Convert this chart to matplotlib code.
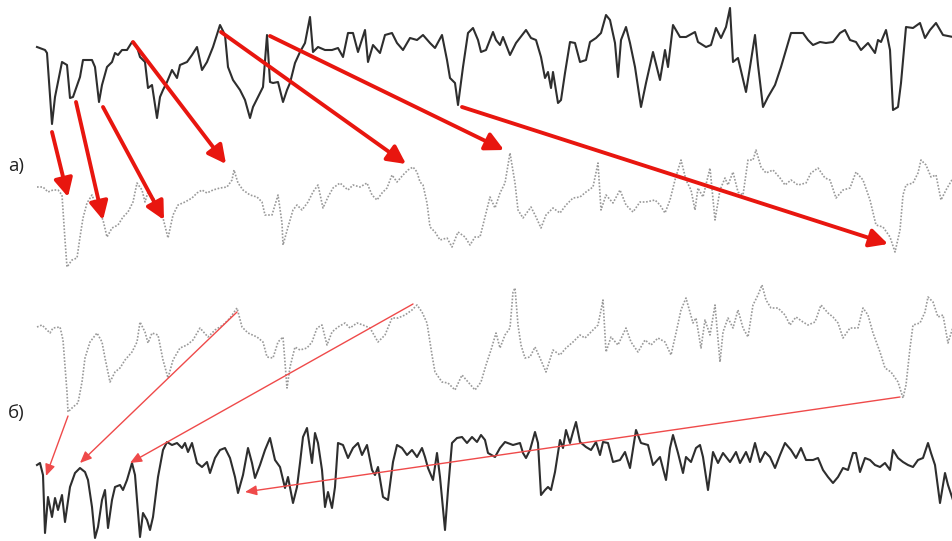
import numpy as np
import matplotlib
matplotlib.use('Agg')
import matplotlib.pyplot as plt

# in pixel units of the 953x541 image (y grows downwards)
top_solid = [(37,47),(45,50),(47,53),(52,124),(55,97),(62,62),(67,65),(70,98),(73,97),(80,77),(83,60),(92,60),
    (95,67),(99,102),(102,85),(107,67),(112,62),(115,53),(118,55),(122,50),(127,50),(132,42),(137,47),(140,57),
    (145,62),(148,88),(152,85),(157,118),(160,97),(163,90),(167,82),(172,70),(177,78),(180,65),(187,62),(192,55),
    (197,47),(202,70),(207,62),(213,47),(220,25),(225,35),(228,67),(233,80),(240,90),(245,100),(250,118),(253,107),
    (258,97),(263,87),(267,35),(270,82),(273,83),(278,82),(283,102),(287,90),(290,83),(295,63),(300,52),(305,43),
    (310,17),(313,52),(318,47),(325,50),(332,50),(338,48),(343,57),(348,33),(353,33),(358,52),(365,30),(368,62),
    (373,45),(380,53),(385,35),(392,33),(397,43),(403,50),(410,38),(417,40),(423,35),(430,43),(435,48),(442,35),
    (447,60),(450,78),(455,83),(458,105),(463,67),(468,33),(473,28),(478,40),(481,52),(486,50),(493,32),(496,40),
    (500,45),(503,37),(510,55),(516,43),(526,30),(531,38),(536,40),(541,57),(545,78),(548,72),(551,88),(553,72),
    (558,103),(561,100),(565,73),(570,42),(575,43),(580,62),(586,60),(590,42),(596,38),(601,33),(606,15),(610,20),
    (615,43),(618,77),(621,40),(626,27),(630,43),(635,67),(641,107),(646,83),(653,52),(660,80),(665,50),(668,67),
    (673,25),(680,37),(686,37),(695,32),(698,42),(706,47),(711,45),(716,28),(721,38),(726,27),(730,8),(733,62),
    (738,58),(746,92),(750,67),(755,35),(758,65),(763,107),(768,97),(775,85),(781,67),(786,50),(791,33),(803,33),
    (808,40),(813,45),(820,42),(826,43),(833,42),(840,33),(845,30),(850,40),(856,42),(861,50),(868,43),(875,53),
    (878,40),(881,42),(886,30),(890,50),(893,110),(898,107),(901,83),(906,27),(913,28),(920,23),(925,38),(930,30),
    (936,23),(943,35),(953,37)]

dotted_a = [(37,187),(43,187),(48,192),(53,190),(58,190),(62,195),(65,240),(67,267),(72,260),(77,258),(80,237),
    (83,218),(87,203),(92,195),(97,208),(103,220),(107,237),(112,228),(118,225),(123,217),(128,212),(133,202),
    (137,183),(142,190),(145,202),(148,192),(153,197),(158,208),(163,218),(168,238),(173,215),(178,205),(185,202),
    (192,198),(197,193),(202,190),(207,193),(213,190),(220,188),(227,187),(232,180),(234,170),(238,183),(243,190),
    (250,195),(257,197),(262,202),(265,215),(272,215),(275,205),(278,195),(282,223),(283,245),(288,227),(293,210),
    (297,205),(302,210),(308,202),(313,192),(318,185),(323,208),(328,197),(333,188),(340,183),(348,190),(353,185),
    (360,187),(367,183),(372,195),(377,200),(382,193),(387,188),(392,175),(397,182),(403,175),(408,170),(413,167),
    (417,172),(420,182),(423,185),(427,203),(430,227),(435,232),(440,240),(447,238),(452,247),(458,232),(465,237),
    (470,245),(475,237),(480,237),(485,217),(490,197),(495,208),(500,193),(505,183),(510,153),(515,183),(518,210),
    (523,218),(531,207),(536,217),(541,228),(546,215),(553,208),(560,213),(566,205),(573,198),(580,197),(586,192),
    (593,187),(598,163),(601,210),(606,195),(613,203),(620,190),(626,205),(633,212),(640,202),(646,202),(655,200),
    (660,205),(665,213),(670,200),(675,180),(681,160),(686,180),(691,190),(695,210),(698,188),(703,197),(710,168),
    (715,220),(720,190),(725,178),(728,185),(733,172),(738,192),(743,195),(748,160),(753,160),(756,150),(761,167),
    (766,173),(773,170),(780,178),(785,185),(791,180),(798,185),(806,183),(811,173),(818,168),(825,178),(830,180),
    (836,198),(843,190),(850,188),(856,172),(863,180),(870,200),(876,225),(883,227),(890,237),(895,252),(900,230),
    (903,195),(906,185),(913,183),(918,173),(921,160),(926,165),(931,177),(936,175),(941,200),(946,190),(953,178)]

dotted_b = [(37,327),(42,325),(47,330),(50,333),(53,328),(60,327),(63,340),(67,392),(68,412),(73,407),(78,403),
    (82,382),(85,358),(90,342),(97,333),(102,342),(105,358),(110,382),(115,372),(120,368),(125,360),(132,352),
    (137,342),(140,322),(145,332),(148,343),(152,333),(158,335),(163,360),(168,378),(173,360),(180,348),(187,345),
    (193,340),(200,328),(208,337),(215,330),(223,325),(230,318),(237,308),(242,327),(248,333),(257,337),(263,342),
    (267,357),(273,358),(278,342),(283,337),(287,388),(290,367),(295,347),(300,350),(307,348),(312,342),(317,328),
    (322,325),(327,345),(332,332),(338,327),(345,323),(350,328),(357,323),(363,325),(370,328),(378,342),(385,335),
    (392,318),(398,318),(405,315),(412,310),(417,305),(422,312),(427,323),(432,355),(435,372),(442,382),(448,383),
    (455,390),(462,375),(468,382),(475,390),(481,382),(486,365),(491,350),(496,333),(500,348),(505,335),(510,328),
    (513,292),(515,288),(518,325),(521,345),(525,358),(530,357),(535,347),(540,358),(546,372),(553,350),(560,355),
    (566,348),(573,342),(580,335),(585,338),(591,332),(598,325),(603,300),(606,352),(611,337),(618,345),(626,328),
    (631,342),(638,352),(645,340),(651,345),(658,338),(665,342),(671,355),(676,333),(681,310),(686,298),(693,323),
    (696,318),(701,348),(705,320),(710,335),(715,305),(720,362),(723,332),(728,318),(733,328),(738,310),(743,328),
    (748,337),(753,305),(758,295),(762,285),(766,300),(771,308),(778,308),(785,315),(790,325),(796,317),(803,322),
    (808,325),(815,322),(821,305),(828,313),(833,317),(838,323),(843,338),(850,328),(858,328),(863,308),(868,315),
    (873,333),(880,352),(885,368),(891,372),(898,382),(903,398),(906,385),(910,348),(913,325),(920,323),(925,312),
    (928,297),(933,302),(938,317),(943,315),(948,343),(953,327)]

bottom_solid = [(37,465),(40,463),(43,475),(45,533),(48,497),(52,517),(55,498),(58,510),(62,495),(65,522),(70,487),
    (75,473),(80,468),(85,472),(88,480),(92,507),(95,538),(98,527),(102,500),(105,490),(108,528),(112,500),(115,487),
    (120,485),(123,490),(127,480),(132,463),(135,475),(140,537),(143,513),(147,520),(150,530),(153,517),(158,477),
    (163,450),(167,442),(172,445),(177,443),(182,448),(185,443),(188,452),(192,443),(197,463),(202,467),(207,462),
    (210,473),(215,458),(220,450),(225,448),(230,458),(235,477),(238,493),(243,475),(248,448),(252,463),(255,478),
    (260,465),(265,450),(270,438),(275,460),(280,467),(285,488),(288,477),(293,503),(297,487),(300,463),(303,437),
    (307,428),(312,463),(315,433),(318,443),(322,470),(325,507),(328,492),(332,508),(335,487),(338,443),(343,445),
    (348,458),(353,448),(358,443),(362,455),(367,445),(372,470),(375,475),(378,467),(383,497),(388,500),(393,462),
    (397,445),(402,448),(407,455),(412,450),(417,457),(422,448),(425,457),(428,468),(433,480),(437,453),(440,477),
    (445,530),(448,490),(452,443),(457,438),(462,437),(467,443),(472,437),(477,442),(481,435),(485,440),(488,453),
    (495,457),(500,448),(505,442),(513,445),(520,443),(523,453),(526,458),(530,450),(535,432),(538,443),(541,495),
    (545,490),(548,487),(551,490),(555,472),(560,440),(563,448),(566,430),(570,443),(573,432),(576,422),(580,442),
    (586,447),(591,450),(596,442),(600,455),(603,442),(608,443),(613,462),(620,460),(625,452),(630,468),(636,430),
    (641,443),(648,445),(653,465),(660,457),(666,480),(670,448),(673,435),(678,453),(683,473),(686,457),(691,462),
    (696,448),(700,445),(703,457),(708,490),(713,452),(718,463),(723,453),(730,462),(736,452),(740,463),(746,452),
    (750,462),(755,443),(760,462),(765,452),(770,457),(775,468),(780,455),(785,443),(791,450),(796,458),(801,448),
    (806,460),(813,460),(818,458),(823,470),(828,477),(833,483),(838,477),(843,468),(848,470),(853,453),(856,453),
    (860,472),(865,458),(870,460),(875,465),(880,467),(885,463),(890,470),(893,450),(898,458),(903,462),(908,465),
    (913,467),(918,460),(923,458),(928,443),(931,453),(935,465),(940,503),(945,473),(948,485),(953,500)]

# arrows: tail -> head
thick_tails = [(52,132),(76,102),(103,107),(133,42),(221,32),(270,36),(462,107)]
thick_heads = [(68,197),(103,220),(164,220),(226,164),(406,164),(504,150),(888,244)]
thin_tails = [(68,416),(237,312),(413,304),(900,397)]
thin_heads = [(46,476),(80,463),(130,463),(245,492)]

labels = ['а)', 'б)']
label_pos = [(8,166), (8,413)]


fig = plt.figure(figsize=(9.53, 5.41), dpi=100)
ax = fig.add_axes([0, 0, 1, 1])
ax.set_xlim(0, 953)
ax.set_ylim(541, 0)
ax.axis('off')

for series in [top_solid, bottom_solid]:
    x, y = np.array(series).T
    ax.plot(x, y, color='#2e2e2e', lw=1.5, solid_joinstyle='round')

for series in [dotted_a, dotted_b]:
    x, y = np.array(series).T
    ax.plot(x, y, color='#999999', lw=1.2, linestyle=(0, (1, 1)))

for tail, head in zip(thick_tails, thick_heads):
    ax.annotate('', xy=head, xytext=tail,
                arrowprops=dict(arrowstyle='-|>,head_length=0.55,head_width=0.28',
                                color='#e8160f', lw=2.8, mutation_scale=20,
                                shrinkA=0, shrinkB=0))

for tail, head in zip(thin_tails, thin_heads):
    ax.annotate('', xy=head, xytext=tail,
                arrowprops=dict(arrowstyle='-|>,head_length=0.7,head_width=0.3',
                                color='#ef4a4a', lw=1.0, mutation_scale=10,
                                shrinkA=0, shrinkB=0))

for lab, (lx, ly) in zip(labels, label_pos):
    ax.text(lx, ly, lab, fontsize=13.5, family=['Open Sans', 'DejaVu Sans'],
            color='#222222', va='center', ha='left')

fig.savefig('out.png', dpi=100)
